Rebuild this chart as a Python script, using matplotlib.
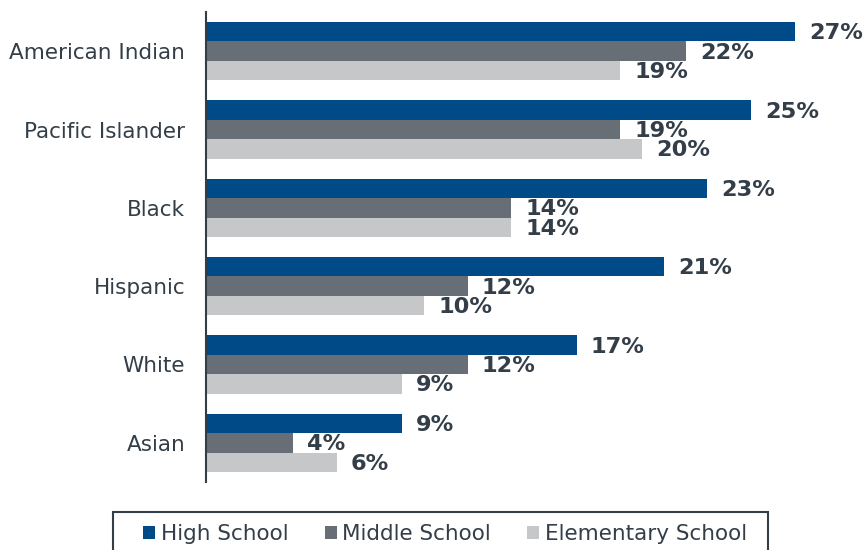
import matplotlib
matplotlib.use("Agg")
import matplotlib.pyplot as plt
from matplotlib.patches import Rectangle
import numpy as np

categories = ["American Indian", "Pacific Islander", "Black", "Hispanic", "White", "Asian"]
series_names = ["High School", "Middle School", "Elementary School"]
high_school = [27, 25, 23, 21, 17, 9]
middle_school = [22, 19, 14, 12, 12, 4]
elementary_school = [19, 20, 14, 10, 9, 6]
colors = ["#004A87", "#686E75", "#C5C7C9"]
text_color = "#333E48"

plt.rcParams['font.family'] = ['DejaVu Sans']

fig = plt.figure(figsize=(8.67, 5.5), dpi=100)
ax = fig.add_axes([206/867, 68/550, 30*21.8/867, 470/550])

y = np.arange(len(categories))
h = 0.248
data = [high_school, middle_school, elementary_school]
offsets = [-h, 0, h]
for vals, off, col, name in zip(data, offsets, colors, series_names):
    bars = ax.barh(y + off, vals, height=h, color=col, label=name)
    for b, v in zip(bars, vals):
        ax.text(v + 0.65, b.get_y() + b.get_height()/2 + 0.02, f"{v}%",
                va='center', ha='left', fontsize=16.2, fontweight='bold',
                color=text_color, clip_on=False)

ax.set_ylim(len(categories) - 0.5, -0.5)
ax.set_xlim(0, 30)
ax.set_yticks(y)
ax.set_yticklabels(categories, fontsize=15.5, color=text_color)
ax.tick_params(axis='y', length=0, pad=15)
ax.set_xticks([])
for s in ['top', 'right', 'bottom']:
    ax.spines[s].set_visible(False)
ax.spines['left'].set_color(text_color)
ax.spines['left'].set_linewidth(1.5)

# legend box
fig.patches.append(Rectangle((113/867, -0.01), (768-113)/867, 0.01 + 1 - 512/550,
                             transform=fig.transFigure, fill=False,
                             edgecolor=text_color, linewidth=1.5))
leg = fig.legend(loc='center', bbox_to_anchor=(445/867, 1 - 534/550), ncol=3,
                 fontsize=15.5, frameon=False, handlelength=0.55,
                 handleheight=0.55, handletextpad=0.25, columnspacing=1.7,
                 borderpad=0, borderaxespad=0)
for t in leg.get_texts():
    t.set_color(text_color)

fig.savefig("out.png", dpi=100)
